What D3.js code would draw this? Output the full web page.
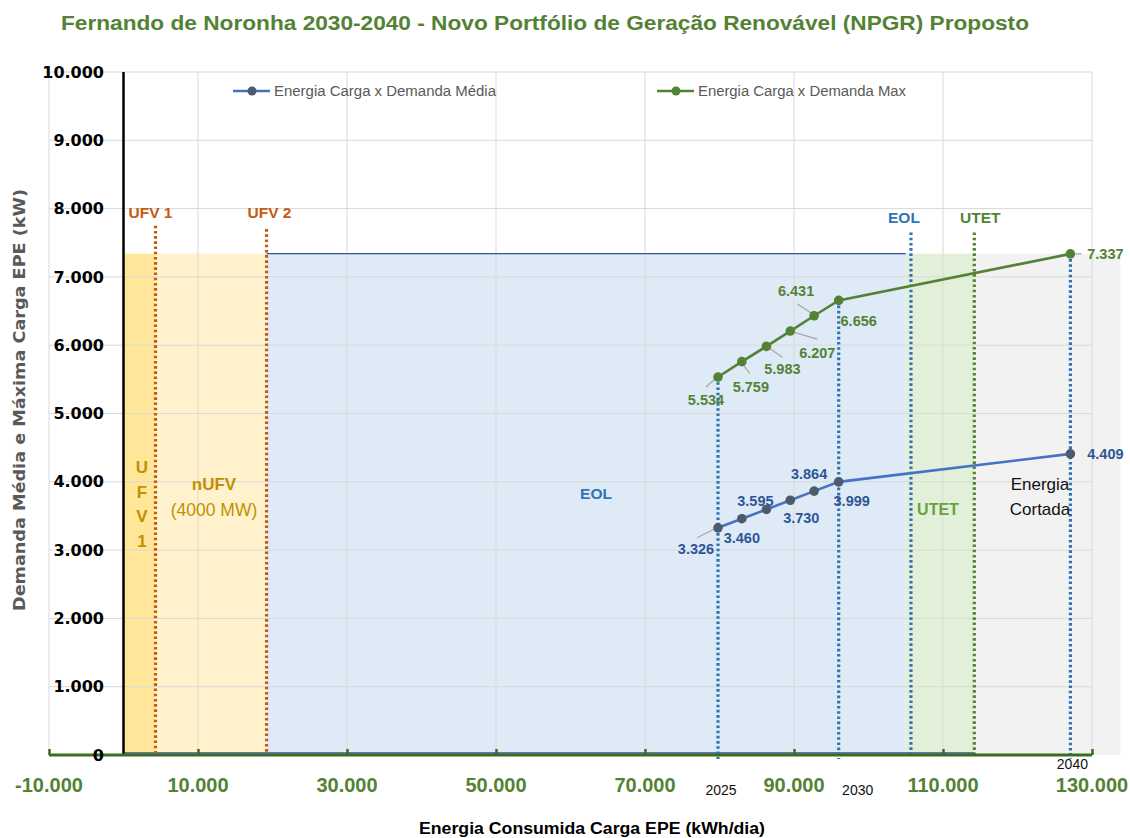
<!DOCTYPE html>
<html><head><meta charset="utf-8">
<script src="https://cdn.jsdelivr.net/npm/d3@7"></script>
<style>body{margin:0;background:#fff}svg{display:block}</style>
</head><body>
<svg id="c" width="1130" height="838"></svg>
<script>
// ---------- data ----------
const years = [2025, 2026, 2027, 2028, 2029, 2030, 2040];
const energy = [79800, 83000, 86300, 89500, 92700, 96000, 127100];      // kWh/dia
const demandAvg = [3326, 3460, 3595, 3730, 3864, 3999, 4409];           // kW
const demandMax = [5534, 5759, 5983, 6207, 6431, 6656, 7337];           // kW
const yearLabels = ["2025", "2030", "2040"];
const xTickValues = [-10000, 10000, 30000, 50000, 70000, 90000, 110000, 130000];
const yTickValues = [0, 1000, 2000, 3000, 4000, 5000, 6000, 7000, 8000, 9000, 10000];
const bandNames = ["UFV 1", "nUFV", "EOL", "UTET", "Energia Cortada"];
const bandFrom = [0, 4300, 19200, 105000, 114200];
const bandTo = [4300, 19200, 105000, 114200, 133800];
const bandTop = 7340;
const sourceNames = ["UFV 1", "UFV 2", "EOL", "UTET"];
const sourceX = [4300, 19200, 105700, 114200];
const sourceTop = [7750, 7700, 7650, 7650];
const seriesNames = ["Energia Carga x Demanda Média", "Energia Carga x Demanda Max"];

// ---------- layout / style ----------
const bandFill = ["#ffe699", "#fff2cc", "#deebf7", "#e2f0d9", "#f2f2f2"];
const sourceColor = ["#c55a11", "#c55a11", "#2e75b6", "#548235"];
const sourceLabelDx = [-5, 3, -7, 6];
const avgOff = [[-22, 21], [0, 19], [-11, -9], [11, 18], [-5, -17], [13, 19], [35, 0]];
const maxOff = [[-12, 23], [9, 25], [16, 22], [27, 22], [-18, -25], [20, 20], [35, 0]];
// leader lines relative to the point: [dx1, dy1, dx2, dy2] (null = none)
const avgLeader = [[-3, 1, -21, 10], null, null, null, null, null, null];
const maxLeader = [[-3, 2, -12, 10], [2, 4, 8, 12], [3, 2, 16, 11], [3, 1, 27, 8], [-2, -2, -17, -12], null, [5, 0, 11, 0]];

const svg = d3.select("#c");
const x = d3.scaleLinear().domain([-10000, 130000]).range([49, 1092]);
const y = d3.scaleLinear().domain([0, 10000]).range([755, 72]);
const loc = d3.formatLocale({decimal: ",", thousands: ".", grouping: [3], currency: ["", ""], minus: "-"});
const fmt = loc.format(",");

// title
svg.append("text").attr("x", 545).attr("y", 30).attr("text-anchor", "middle")
  .attr("font-family", "Liberation Sans, Arial, sans-serif").attr("font-weight", "bold")
  .attr("font-size", 19.5).attr("fill", "#548235")
  .attr("textLength", 968).attr("lengthAdjust", "spacingAndGlyphs")
  .text("Fernando de Noronha 2030-2040 - Novo Portfólio de Geração Renovável (NPGR) Proposto");

// bands
svg.append("g").selectAll("rect").data(bandNames).join("rect")
  .attr("x", (d, i) => x(bandFrom[i])).attr("width", (d, i) => x(bandTo[i]) - x(bandFrom[i]))
  .attr("y", y(bandTop)).attr("height", y(0) - y(bandTop))
  .attr("fill", (d, i) => bandFill[i]);

// gridlines
const grid = svg.append("g").attr("stroke", "#d9d9d9").attr("stroke-width", 1);
grid.selectAll("line.h").data(yTickValues.filter(v => v > 0)).join("line")
  .attr("x1", x(-10000)).attr("x2", x(130000)).attr("y1", d => y(d)).attr("y2", d => y(d));
grid.selectAll("line.v").data(xTickValues).join("line")
  .attr("x1", d => x(d)).attr("x2", d => x(d)).attr("y1", y(10000)).attr("y2", y(0));

// EOL band outline (top & bottom)
svg.append("line").attr("x1", x(bandFrom[2])).attr("x2", x(bandTo[2]))
  .attr("y1", y(bandTop)).attr("y2", y(bandTop)).attr("stroke", "#2f5597").attr("stroke-width", 1.2);
svg.append("line").attr("x1", x(0)).attr("x2", x(bandTo[3]))
  .attr("y1", y(0) - 2).attr("y2", y(0) - 2).attr("stroke", "#2f5597").attr("stroke-width", 1.5);

// source vertical dotted lines
svg.append("g").selectAll("line").data(sourceNames).join("line")
  .attr("x1", (d, i) => x(sourceX[i])).attr("x2", (d, i) => x(sourceX[i]))
  .attr("y1", (d, i) => y(sourceTop[i])).attr("y2", y(0))
  .attr("stroke", (d, i) => sourceColor[i]).attr("stroke-width", 3.2).attr("stroke-dasharray", "2.6 2.6");
svg.append("g").selectAll("text").data(sourceNames).join("text")
  .attr("x", (d, i) => x(sourceX[i]) + sourceLabelDx[i])
  .attr("y", (d, i) => i < 2 ? 218 : 223)
  .attr("text-anchor", "middle").attr("font-family", "Liberation Sans, Arial, sans-serif")
  .attr("font-weight", "bold").attr("font-size", 15.5)
  .attr("fill", (d, i) => sourceColor[i]).text(d => d);

// year vertical dotted lines
const yearIdx = yearLabels.map(l => years.indexOf(+l));
svg.append("g").selectAll("line").data(yearIdx).join("line")
  .attr("x1", i => x(energy[i])).attr("x2", i => x(energy[i]))
  .attr("y1", i => y(demandMax[i])).attr("y2", y(0) + 4)
  .attr("stroke", "#2e75b6").attr("stroke-width", 3.2).attr("stroke-dasharray", "2.6 2.6");

// band labels
const bl = svg.append("g").attr("font-family", "Liberation Sans, Arial, sans-serif").attr("text-anchor", "middle");
["U", "F", "V", "1"].forEach((ch, k) => {
  bl.append("text").attr("x", 142).attr("y", 473 + k * 24.7).attr("font-weight", "bold")
    .attr("font-size", 17).attr("fill", "#bf9000").text(ch);
});
bl.append("text").attr("x", 214).attr("y", 490).attr("font-size", 17).attr("font-weight", "bold").attr("fill", "#bf9000").text("nUFV");
bl.append("text").attr("x", 214).attr("y", 516).attr("font-size", 17.5).attr("fill", "#bf9000").text("(4000 MW)");
bl.append("text").attr("x", 596).attr("y", 499).attr("font-size", 15.5).attr("font-weight", "bold").attr("fill", "#2e75b6").text("EOL");
bl.append("text").attr("x", 938).attr("y", 515).attr("font-size", 16).attr("font-weight", "bold").attr("fill", "#6a9f3e").text("UTET");
bl.append("text").attr("x", 1040).attr("y", 490).attr("font-size", 17).attr("fill", "#111").text("Energia");
bl.append("text").attr("x", 1040).attr("y", 515).attr("font-size", 17).attr("fill", "#111").text("Cortada");

// y axis line at x=0
svg.append("line").attr("x1", x(0)).attr("x2", x(0)).attr("y1", y(10000)).attr("y2", y(0))
  .attr("stroke", "#000").attr("stroke-width", 2.5);

// x axis
const xAxisG = svg.append("g").attr("transform", `translate(0,${y(0)})`)
  .call(d3.axisTop(x).tickValues(xTickValues).tickSize(6).tickFormat(""));
xAxisG.select(".domain").attr("stroke", "#3d6b1f").attr("stroke-width", 3).attr("d", `M${x(-10000)},0H${x(130000)}`);
xAxisG.selectAll(".tick line").attr("stroke", "#3d6b1f").attr("stroke-width", 2.5);
svg.append("g").selectAll("text").data(xTickValues).join("text")
  .attr("x", d => x(d)).attr("y", 792).attr("text-anchor", "middle")
  .attr("font-family", "Liberation Sans, Arial, sans-serif").attr("font-weight", "bold")
  .attr("font-size", 20).attr("fill", "#548235").text(d => fmt(d));

// y axis labels
const yAxisG = svg.append("g").attr("transform", `translate(104,0)`)
  .call(d3.axisLeft(y).tickValues(yTickValues).tickSize(0).tickPadding(0).tickFormat(d => fmt(d)));
yAxisG.select(".domain").remove();
yAxisG.selectAll("text").attr("font-family", "DejaVu Sans, Verdana, sans-serif").attr("font-weight", "bold")
  .attr("font-size", 16).attr("fill", "#000");

// year labels
svg.append("g").selectAll("text").data(yearIdx).join("text")
  .attr("x", (i, k) => x(energy[i]) + (k === 0 ? 3 : (k === 1 ? 19 : 2)))
  .attr("y", (i, k) => k === 2 ? 769 : 795).attr("text-anchor", "middle")
  .attr("font-family", "Liberation Sans, Arial, sans-serif").attr("font-size", 14).attr("fill", "#111")
  .text((i, k) => yearLabels[k]);

// axis titles
svg.append("text").attr("x", 592).attr("y", 834).attr("text-anchor", "middle")
  .attr("font-family", "Liberation Sans, Arial, sans-serif").attr("font-weight", "bold")
  .attr("font-size", 16).attr("fill", "#000").attr("textLength", 346).attr("lengthAdjust", "spacingAndGlyphs")
  .text("Energia Consumida Carga EPE (kWh/dia)");
svg.append("text").attr("transform", "translate(25,400) rotate(-90)").attr("text-anchor", "middle")
  .attr("font-family", "DejaVu Sans, Verdana, sans-serif").attr("font-weight", "bold")
  .attr("font-size", 15).attr("fill", "#595959").attr("textLength", 422).attr("lengthAdjust", "spacingAndGlyphs")
  .text("Demanda Média e Máxima Carga EPE (kW)");

// series
const series = [
  {vals: demandAvg, line: "#4472c4", marker: "#4d5a6b", label: "#2f5597", off: avgOff, leader: avgLeader},
  {vals: demandMax, line: "#548235", marker: "#548235", label: "#548235", off: maxOff, leader: maxLeader}
];
const lineGen = vals => d3.line().x((d, i) => x(energy[i])).y(d => y(d))(vals);
series.forEach(s => {
  const g = svg.append("g");
  const leaderIdx = s.leader.map((l, i) => l ? i : -1).filter(i => i >= 0);
  g.selectAll("line").data(leaderIdx).join("line")
    .attr("x1", i => x(energy[i]) + s.leader[i][0]).attr("y1", i => y(s.vals[i]) + s.leader[i][1])
    .attr("x2", i => x(energy[i]) + s.leader[i][2]).attr("y2", i => y(s.vals[i]) + s.leader[i][3])
    .attr("stroke", "#a6a6a6").attr("stroke-width", 1.2);
  g.append("path").attr("d", lineGen(s.vals)).attr("fill", "none").attr("stroke", s.line).attr("stroke-width", 2.6);
  g.selectAll("circle").data(s.vals).join("circle")
    .attr("cx", (d, i) => x(energy[i])).attr("cy", d => y(d)).attr("r", 4.8)
    .attr("fill", s.marker);
  g.selectAll("text").data(s.vals).join("text")
    .attr("x", (d, i) => x(energy[i]) + s.off[i][0]).attr("y", (d, i) => y(d) + s.off[i][1])
    .attr("dy", "0.36em").attr("text-anchor", "middle")
    .attr("font-family", "Liberation Sans, Arial, sans-serif").attr("font-weight", "bold")
    .attr("font-size", 14.5).attr("fill", s.label).text(d => fmt(d));
});

// legend
const legX = [233, 657];
const legLen = [222, 208];
const lg = svg.append("g");
seriesNames.forEach((n, i) => {
  lg.append("line").attr("x1", legX[i]).attr("x2", legX[i] + 37).attr("y1", 91).attr("y2", 91)
    .attr("stroke", series[i].line).attr("stroke-width", 2.6);
  lg.append("circle").attr("cx", legX[i] + 19).attr("cy", 91).attr("r", 4.5).attr("fill", series[i].marker);
  lg.append("text").attr("x", legX[i] + 41).attr("y", 96).attr("font-family", "Liberation Sans, Arial, sans-serif")
    .attr("font-size", 14).attr("fill", "#595959")
    .attr("textLength", legLen[i]).attr("lengthAdjust", "spacingAndGlyphs").text(n);
});
</script>
</body></html>
